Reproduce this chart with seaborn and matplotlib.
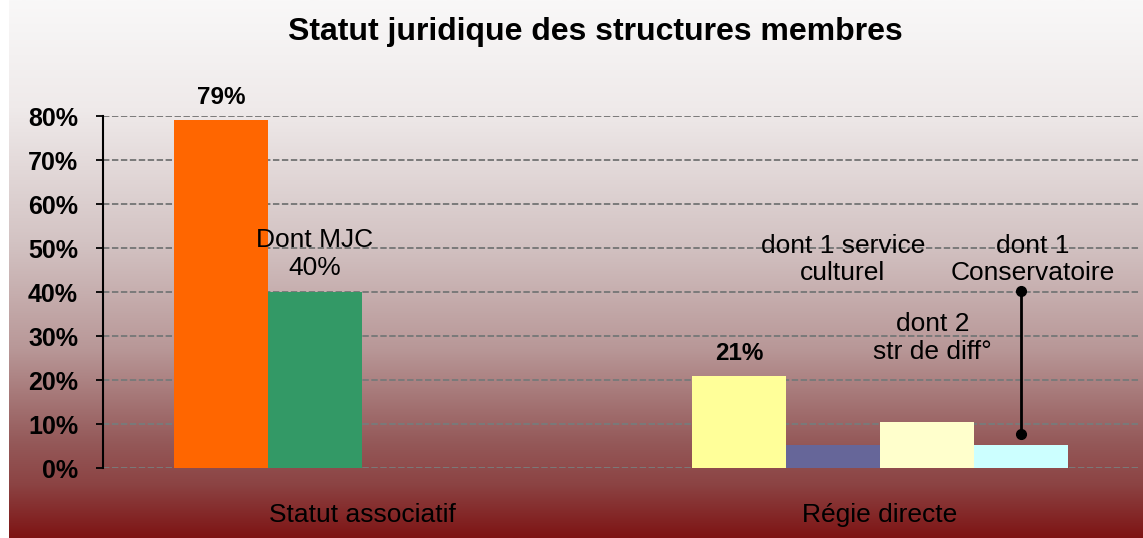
import numpy as np
import pandas as pd
import seaborn as sns
import matplotlib.pyplot as plt
from matplotlib.colors import LinearSegmentedColormap

# --- Données ---
categories = ["Statut associatif", "Régie directe"]
series = ["serie 1", "serie 2", "serie 3", "serie 4"]
serie_1 = [79, 21]
serie_2 = [40, 5.3]
serie_3 = [0, 10.5]
serie_4 = [0, 5.3]
bar_colors = [["#FF6600", "#FFFF99"],
              ["#339966", "#666699"],
              ["#FF6600", "#FFFFCC"],
              ["#FF6600", "#CCFFFF"]]
y_ticks = [0, 10, 20, 30, 40, 50, 60, 70, 80]
y_tick_labels = ["0%", "10%", "20%", "30%", "40%", "50%", "60%", "70%", "80%"]
title = "Statut juridique des structures membres"

rows = []
for s, vals in zip(series, [serie_1, serie_2, serie_3, serie_4]):
    for c, v in zip(categories, vals):
        rows.append({"categorie": c, "serie": s, "valeur": v})
df = pd.DataFrame(rows)

# --- Style ---
sns.set_style("white")
plt.rcParams["font.family"] = ["Liberation Sans", "DejaVu Sans"]
plt.rcParams["text.color"] = "black"
plt.rcParams["xtick.color"] = "black"
plt.rcParams["ytick.color"] = "black"
plt.rcParams["xtick.labelcolor"] = "black"
plt.rcParams["ytick.labelcolor"] = "black"

fig = plt.figure(figsize=(11.43, 5.38), dpi=100, facecolor="white")

# fond dégradé
bg = fig.add_axes([9 / 1143, 0, 1 - 9 / 1143, 1])
cmap_bg = LinearSegmentedColormap.from_list("fond", [
    (0.0, "#f9f8f8"), (0.2, "#efeaea"), (0.45, "#d3c3c3"),
    (0.65, "#b89797"), (0.82, "#955a5a"), (0.9, "#8c4444"), (1.0, "#7e1414")])
grad = np.linspace(0, 1, 256).reshape(-1, 1)
bg.imshow(grad, aspect="auto", cmap=cmap_bg, extent=[0, 1, 1, 0])
bg.set_axis_off()

ax = fig.add_axes([103 / 1143, 1 - 468 / 538, (1139 - 103) / 1143, (468 - 116) / 538])
ax.patch.set_alpha(0)

sns.barplot(data=df, x="categorie", y="valeur", hue="serie", order=categories,
            hue_order=series, width=0.726, errorbar=None, saturation=1,
            linewidth=0, legend=False, ax=ax, zorder=3)

for cont, cols in zip(ax.containers, bar_colors):
    for bar, col in zip(cont, cols):
        bar.set_facecolor(col)
        bar.set_edgecolor("none")

def centre(i_serie, i_cat):
    b = ax.containers[i_serie][i_cat]
    return b.get_x() + b.get_width() / 2

ax.set_xlim(-0.5, 1.5)
ax.set_ylim(0, 80)
ax.set_yticks(y_ticks)
ax.set_yticklabels(y_tick_labels, fontweight="bold", fontsize=18)
ax.set_xlabel("")
ax.set_ylabel("")
ax.tick_params(axis="x", length=0, pad=25, labelsize=19, labelcolor="black")
ax.tick_params(axis="y", direction="out", length=5, width=1.3, pad=13,
               color="black", labelcolor="black", left=True)
ax.grid(axis="y", color="#7a7a7a", linestyle=(0, (3.3, 1.3)), linewidth=1.4, zorder=1)
ax.set_axisbelow(True)
for sp in ["top", "right", "bottom"]:
    ax.spines[sp].set_visible(False)
ax.spines["left"].set_color("black")
ax.spines["left"].set_linewidth(1.5)

# --- Étiquettes ---
ax.text(centre(0, 0), 84.3, "79%", ha="center", va="center", fontsize=17.5,
        fontweight="bold", clip_on=False)
ax.text(centre(0, 1), 26, "21%", ha="center", va="center", fontsize=17.5,
        fontweight="bold")
ax.text(centre(1, 0), 48.6, "Dont MJC\n40%", ha="center", va="center", fontsize=19)
ax.text(centre(1, 1) + 0.019, 47.4, "dont 1 service\nculturel", ha="center",
        va="center", fontsize=19)
ax.text(centre(2, 1) + 0.011, 29.6, "dont 2\nstr de diff°", ha="center",
        va="center", fontsize=19)
ax.text(centre(3, 1) + 0.023, 47.4, "dont 1\nConservatoire", ha="center",
        va="center", fontsize=19)

# trait du conservatoire
xc = centre(3, 1)
ax.plot([xc, xc], [40.2, 7.7], color="black", linewidth=2, marker="o",
        markersize=7, zorder=5)

fig.text(595 / 1143, 1 - 32 / 538, title, ha="center", va="center",
         fontsize=23, fontweight="bold")

fig.savefig("out.png", dpi=100)
